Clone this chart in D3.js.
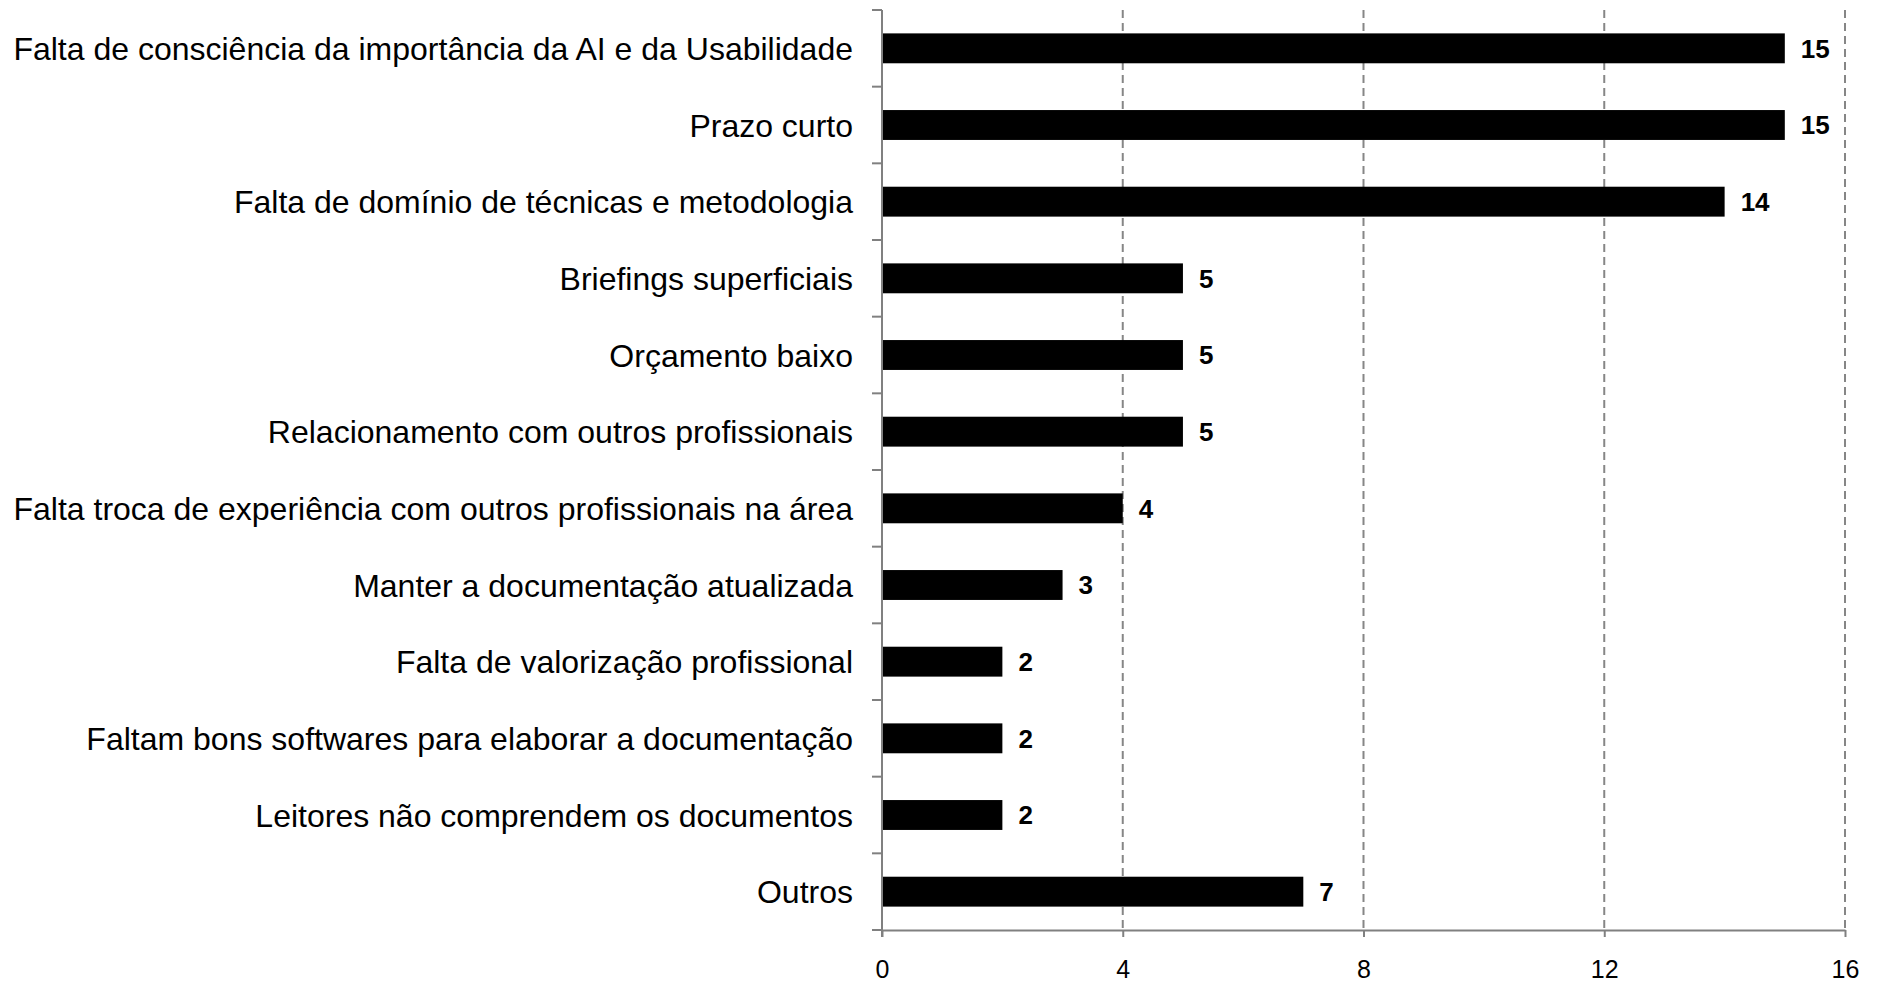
<!DOCTYPE html>
<html>
<head>
<meta charset="utf-8">
<script src="https://cdn.jsdelivr.net/npm/d3@7/dist/d3.min.js"></script>
<style>
html,body{margin:0;padding:0;background:#fff;}
svg{display:block;}
text{font-family:"Liberation Sans",Arial,sans-serif;}
</style>
</head>
<body>
<svg id="chart" width="1878" height="982"></svg>
<script>
const categories = [
  "Falta de consciência da importância da AI e da Usabilidade",
  "Prazo curto",
  "Falta de domínio de técnicas e metodologia",
  "Briefings superficiais",
  "Orçamento baixo",
  "Relacionamento com outros profissionais",
  "Falta troca de experiência com outros profissionais na área",
  "Manter a documentação atualizada",
  "Falta de valorização profissional",
  "Faltam bons softwares para elaborar a documentação",
  "Leitores não comprendem os documentos",
  "Outros"
];
const values = [15, 15, 14, 5, 5, 5, 4, 3, 2, 2, 2, 7];
const xTicks = [0, 4, 8, 12, 16];

const svg = d3.select("#chart");
const x0 = 882, x1 = 1845, yTop = 10, yBot = 930;

const x = d3.scaleLinear().domain([0, 16]).range([x0, x1]);
const y = d3.scaleBand().domain(categories).range([yTop, yBot]).paddingInner(0.61).paddingOuter(0.305);
const yb = d3.scaleBand().domain(categories).range([yTop, yBot]);

// gridlines
svg.append("g").selectAll("line").data(xTicks.filter(d => d > 0)).join("line")
  .attr("x1", d => x(d)).attr("x2", d => x(d))
  .attr("y1", yTop).attr("y2", yBot)
  .attr("stroke", "#868686").attr("stroke-width", 2)
  .attr("stroke-dasharray", "8,5");

// bars
svg.append("g").selectAll("rect").data(values).join("rect")
  .attr("x", x(0))
  .attr("y", (d, i) => y(categories[i]))
  .attr("width", d => x(d) - x(0))
  .attr("height", y.bandwidth())
  .attr("fill", "#000");

// value labels
svg.append("g").selectAll("text").data(values).join("text")
  .attr("x", d => x(d) + 16)
  .attr("y", (d, i) => y(categories[i]) + y.bandwidth() / 2)
  .attr("dy", "0.36em")
  .attr("font-size", 26).attr("font-weight", "bold").attr("fill", "#000")
  .text(d => d);

// y axis line and ticks
const axisColor = "#808080";
svg.append("line").attr("x1", x0).attr("x2", x0).attr("y1", yTop).attr("y2", yBot + 7)
  .attr("stroke", axisColor).attr("stroke-width", 2);
const yTickPos = categories.map(c => yb(c)).concat([yBot]);
svg.append("g").selectAll("line").data(yTickPos).join("line")
  .attr("x1", x0 - 10).attr("x2", x0)
  .attr("y1", d => d).attr("y2", d => d)
  .attr("stroke", axisColor).attr("stroke-width", 2);

// category labels
svg.append("g").selectAll("text").data(categories).join("text")
  .attr("x", 853)
  .attr("y", c => yb(c) + yb.bandwidth() / 2)
  .attr("dy", "0.36em")
  .attr("text-anchor", "end")
  .attr("font-size", 32).attr("fill", "#000")
  .text(c => c);

// x axis
const xAxis = d3.axisBottom(x).tickValues(xTicks).tickSize(7).tickPadding(23).tickSizeOuter(0);
const gx = svg.append("g").attr("transform", `translate(0,${yBot})`).call(xAxis);
gx.select(".domain").attr("stroke", axisColor).attr("stroke-width", 2);
gx.selectAll(".tick line").attr("stroke", axisColor).attr("stroke-width", 2);
gx.selectAll(".tick text").attr("font-size", 25).attr("fill", "#000")
  .attr("font-family", "'Liberation Sans', Arial, sans-serif");
</script>
</body>
</html>
